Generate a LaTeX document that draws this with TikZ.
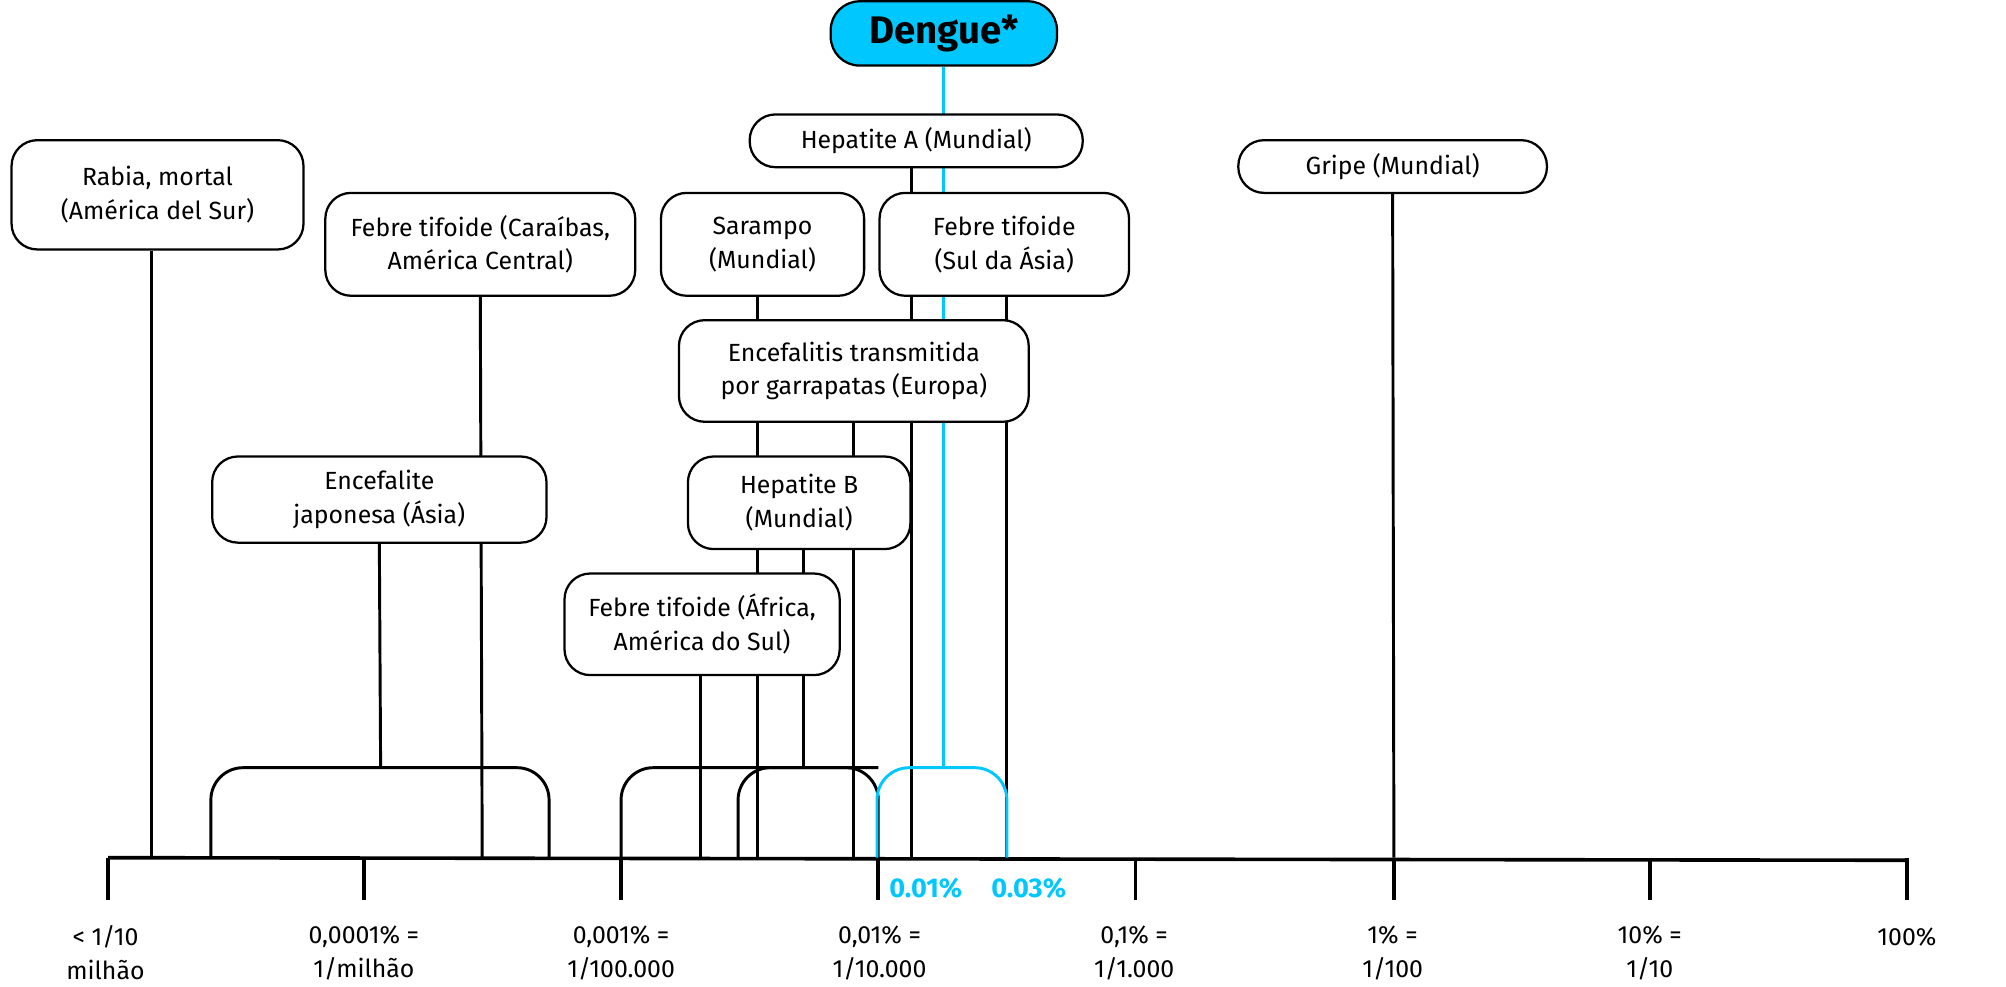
\documentclass[tikz,border=0pt]{standalone}
\usepackage{fontspec}
\setmainfont{Fira Sans}
\usetikzlibrary{backgrounds}
\definecolor{cy}{RGB}{0,200,255}
\begin{document}
\begin{tikzpicture}[x=0.02cm,y=-0.02cm,
  bx/.style={draw,fill=white,line width=1pt,rounded corners=0.4cm,align=center,inner sep=0pt,
    font=\fontsize{11}{15}\selectfont},
  ln/.style={line width=1.3pt},
  cl/.style={line width=1.3pt,cy},
  lab/.style={align=center,font=\fontsize{11}{15}\selectfont}]
\useasboundingbox (0,0) rectangle (1560,767);
\newcommand\bx[6]{\node[bx,minimum width={(#4-#2)*0.02cm},minimum height={(#5-#3)*0.02cm}] (#1) at ({(#2+#4)/2},{(#3+#5)/2}) {#6};}
\node[draw,fill=cy,line width=1pt,rounded corners=0.45cm,minimum width=3.52cm,minimum height=1cm,inner sep=0pt,font=\fontsize{17}{20}\selectfont\bfseries] (dengue) at (734,26) {Dengue*};
\bx{hepa}{583}{89}{842}{130}{Hepatite A (Mundial)}
\bx{gripe}{963}{109}{1203}{150}{Gripe (Mundial)}
\bx{rabia}{9}{109}{236}{194}{Rabia, mortal\\(América del Sur)}
\bx{carib}{253}{150}{494}{230}{Febre tifoide (Caraíbas,\\América Central)}
\bx{saramp}{514}{150}{672}{230}{Sarampo\\(Mundial)}
\bx{sula}{684}{150}{878}{230}{Febre tifoide\\(Sul da Ásia)}
\bx{encef}{528}{249}{800}{328}{Encefalitis transmitida\\por garrapatas (Europa)}
\bx{jap}{165}{355}{425}{422}{Encefalite\\japonesa (Ásia)}
\bx{hepb}{535}{355}{708}{427}{Hepatite B\\(Mundial)}
\bx{afr}{439}{446}{653}{525}{Febre tifoide (África,\\América do Sul)}
\coordinate (a0) at (84,667); \coordinate (a1) at (1484,669);
\begin{scope}[on background layer]
\draw[line width=1.6pt] (a0) -- (a1);
\foreach \x in {84,283,483,683,883,1084,1283,1483} \draw[line width=1.6pt] (\x,667) -- (\x,700);
\draw[ln] (rabia.south -| 118,0) -- (118,667);
\draw[ln] (carib.south) -- (375,667);
\draw[ln] (jap.south) -- (296,597);
\draw[ln,rounded corners=0.5cm] (164,667) -- (164,597) -- (427,597) -- (427,667);
\draw[ln,rounded corners=0.5cm] (483,667) -- (483,597) -- (683,597) -- (683,667);
\draw[ln,rounded corners=0.5cm] (574,667) -- (574,597) -- (683,597);
\draw[ln] (afr.south -| 545,0) -- (545,667);
\draw[ln] (saramp.south -| 589,0) -- (589,667);
\draw[ln] (hepb.south -| 625,0) -- (625,597);
\draw[ln] (encef.south -| 664,0) -- (664,667);
\draw[ln] (hepa.south -| 709,0) -- (709,667);
\draw[ln] (sula.south -| 783,0) -- (783,667);
\draw[ln] (gripe.south) -- (1084,667);
\draw[cl] (dengue.south) -- (734,597);
\draw[cl,rounded corners=0.5cm] (682,667) -- (682,597) -- (783,597) -- (783,667);
\end{scope}
\node[font=\fontsize{12}{14}\selectfont\bfseries,text=cy] (p1) at (720,691) {0.01\%};
\node[font=\fontsize{12}{14}\selectfont\bfseries,text=cy] (p2) at (800,691) {0.03\%};
\node[lab] (l0) at (82,741) {< 1/10\\milhão};
\node[lab] (l1) at (283,741) {0,0001\% =\\1/milhão};
\node[lab] (l2) at (483,741) {0,001\% =\\1/100.000};
\node[lab] (l3) at (684,741) {0,01\% =\\1/10.000};
\node[lab] (l4) at (882,741) {0,1\% =\\1/1.000};
\node[lab] (l5) at (1083,741) {1\% =\\1/100};
\node[lab] (l6) at (1283,741) {10\% =\\1/10};
\node[lab] (l7) at (1483,729) {100\%};
\end{tikzpicture}
\end{document}
